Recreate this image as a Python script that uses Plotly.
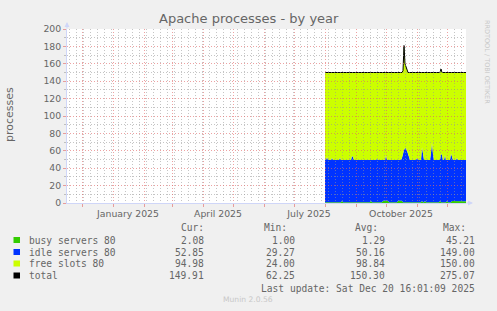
import plotly.graph_objects as go
import pandas as pd

# ---------------- data ----------------
dates = pd.date_range("2025-08-01", "2025-12-20", freq="D")

busy = [
    1, 1, 1, 1, 1, 1, 1, 1, 1, 1,
    1, 1, 1, 1, 1, 1, 1, 2.5, 1, 1,
    1, 1, 1, 1, 1, 1, 1, 1, 1, 1,
    1, 1, 1, 1, 1, 1, 1, 1, 1, 1,
    1, 1, 1, 1, 1, 1, 2.5, 1, 1, 1,
    1, 1, 1, 1, 1, 1, 1, 1, 2.5, 2.5,
    2.5, 2.5, 2.5, 2.5, 1, 1, 1, 1, 1, 1,
    1, 1, 1, 2.5, 2.5, 2.5, 2.5, 2.5, 1, 1,
    1, 1, 1, 1, 1, 1, 1, 1, 1, 1,
    1, 1, 1, 1, 1, 1, 1, 2.5, 1, 1,
    2.5, 1, 1, 1, 1, 1, 1, 1, 1, 1,
    1, 1, 1, 1, 1, 2.5, 1, 1, 1, 1,
    1, 1, 2.5, 1, 1, 1, 1, 2.2, 2.2, 2.2,
    2.2, 2.2, 2.2, 2.2, 2.2, 2.2, 2.2, 2.2, 2.2, 2.2,
    2.2, 2.1,
]

idle = [
    48.5, 48.5, 52, 48.5, 48.5, 48.5, 48.5, 51, 48.5, 48.5,
    48.5, 48.5, 48.5, 48.5, 48.5, 51, 48.5, 47, 48.5, 48.5,
    48.5, 48.5, 48.5, 48.5, 48.5, 48.5, 48.5, 53, 52, 48.5,
    48.5, 48.5, 48.5, 48.5, 48.5, 48.5, 48.5, 48.5, 48.5, 48.5,
    48.5, 48.5, 48.5, 48.5, 48.5, 48.5, 47, 48.5, 48.5, 48.5,
    48.5, 48.5, 50, 48.5, 48.5, 48.5, 48.5, 48.5, 47, 47,
    47, 52.5, 47, 47, 48.5, 48.5, 48.5, 48.5, 48.5, 48.5,
    48.5, 48.5, 48.5, 47, 47, 47, 47, 49.5, 56, 60,
    62, 62, 59, 56, 52, 48.5, 48.5, 48.5, 48.5, 48.5,
    48.5, 48.5, 51, 48.5, 48.5, 48.5, 48.5, 61.5, 54, 48.5,
    47, 48.5, 48.5, 48.5, 48.5, 48.5, 57, 68, 55, 48.5,
    48.5, 48.5, 48.5, 48.5, 48.5, 47, 56, 54, 48.5, 48.5,
    54, 48.5, 47, 48.5, 48.5, 48.5, 56, 51.8, 47.3, 47.3,
    47.3, 47.3, 49.8, 47.3, 47.3, 47.3, 47.3, 47.3, 47.3, 47.3,
    47.3, 47.4,
]

free = [
    100.5, 100.5, 97, 100.5, 100.5, 100.5, 100.5, 98, 100.5, 100.5,
    100.5, 100.5, 100.5, 100.5, 100.5, 98, 100.5, 100.5, 100.5, 100.5,
    100.5, 100.5, 100.5, 100.5, 100.5, 100.5, 100.5, 96, 97, 100.5,
    100.5, 100.5, 100.5, 100.5, 100.5, 100.5, 100.5, 100.5, 100.5, 100.5,
    100.5, 100.5, 100.5, 100.5, 100.5, 100.5, 100.5, 100.5, 100.5, 100.5,
    100.5, 100.5, 99, 100.5, 100.5, 100.5, 100.5, 100.5, 100.5, 100.5,
    100.5, 95, 100.5, 100.5, 100.5, 100.5, 100.5, 100.5, 100.5, 100.5,
    100.5, 100.5, 100.5, 100.5, 100.5, 100.5, 100.5, 98, 95, 120,
    97, 94, 93, 93, 97, 100.5, 100.5, 100.5, 100.5, 100.5,
    100.5, 100.5, 98, 100.5, 100.5, 100.5, 100.5, 86, 95, 100.5,
    100.5, 100.5, 100.5, 100.5, 100.5, 100.5, 92, 81, 94, 100.5,
    100.5, 100.5, 100.5, 100.5, 100.5, 100.5, 97, 95, 100.5, 100.5,
    95, 100.5, 100.5, 100.5, 100.5, 100.5, 93, 96, 100.5, 100.5,
    100.5, 100.5, 98, 100.5, 100.5, 100.5, 100.5, 100.5, 100.5, 100.5,
    100.5, 100.5,
]

total = [b + i + f for b, i, f in zip(busy, idle, free)]

x_range = ["2024-11-16", "2025-12-20"]
quarter_ticks = ["2025-01-16", "2025-04-16", "2025-07-16", "2025-10-16"]
quarter_labels = ["January 2025", "April 2025", "July 2025", "October 2025"]

legend_names = ["busy servers 80", "idle servers 80", "free slots 80", "total"]
legend_colors = ["#33CC00", "#0033FF", "#CCFF00", "#000000"]
cur_vals = ["2.08", "52.85", "94.98", "149.91"]
min_vals = ["1.00", "29.27", "24.00", "62.25"]
avg_vals = ["1.29", "50.16", "98.84", "150.30"]
max_vals = ["45.21", "149.00", "150.00", "275.07"]

# ---------------- geometry ----------------
W, H = 497, 311
L, R, T, B = 67, 466, 29, 203
FONT = "DejaVu Sans"
MONO = "DejaVu Sans Mono"
TXT = "#666666"
AXIS = "#CFD6F8"
MGRID = "rgba(225,100,100,0.6)"
GRID = "rgba(150,150,150,0.55)"
DOT = "1px,2px"


def px(x):
    return (x - L) / (R - L)


def py(y):
    return (B - y) / (B - T)


fig = go.Figure()

for name, vals, col in zip(legend_names[:3], [busy, idle, free], legend_colors[:3]):
    fig.add_trace(go.Scatter(
        x=dates, y=vals, name=name, stackgroup="s", mode="lines",
        line=dict(width=0, color=col), fillcolor=col, hoverinfo="skip",
        showlegend=False,
    ))

fig.add_trace(go.Scatter(
    x=dates, y=total, name="total", mode="lines",
    line=dict(width=1, color="#000000"), hoverinfo="skip", showlegend=False,
))

# invisible trace to create the grid subplot drawn above the data
fig.add_trace(go.Scatter(
    x=dates, y=total, xaxis="x2", yaxis="y2", mode="lines",
    line=dict(width=0), opacity=0, hoverinfo="skip", showlegend=False,
))

annotations = []
annotations.append(dict(
    text="Apache processes - by year", x=px(248.5), y=py(19), xref="paper", yref="paper",
    showarrow=False, xanchor="center", yanchor="middle",
    font=dict(family=FONT, size=13, color=TXT),
))
annotations.append(dict(
    text="processes", x=px(10), y=py(115), xref="paper", yref="paper",
    showarrow=False, xanchor="center", yanchor="middle", textangle=-90,
    font=dict(family=FONT, size=11, color=TXT),
))
annotations.append(dict(
    text="RRDTOOL / TOBI OETIKER", x=px(487), y=py(62), xref="paper", yref="paper",
    showarrow=False, xanchor="center", yanchor="middle", textangle=90,
    font=dict(family=FONT, size=6.5, color="#C8C8C8"),
))
annotations.append(dict(
    text="Munin 2.0.56", x=px(248), y=py(299), xref="paper", yref="paper",
    showarrow=False, xanchor="center", yanchor="middle",
    font=dict(family=FONT, size=7.6, color="#C8C8C8"),
))

mono = dict(family=MONO, size=9.6, color=TXT)
headers = [("Cur:", 206), ("Min:", 289), ("Avg:", 380), ("Max:", 468)]
for t, xr in headers:
    annotations.append(dict(text=t, x=px(xr), y=py(227), xref="paper", yref="paper",
                            showarrow=False, xanchor="right", yanchor="middle", font=mono))

row_y = [240, 252, 263.5, 275.5]
shapes = [dict(type="rect", xref="paper", yref="paper", x0=0, x1=1, y0=0, y1=1,
               fillcolor="#FFFFFF", line=dict(width=0), layer="below")]
for k in range(4):
    yy = row_y[k]
    annotations.append(dict(text=legend_names[k], x=px(27), y=py(yy), xref="paper", yref="paper",
                            showarrow=False, xanchor="left", yanchor="middle", font=mono))
    for vals, xr in [(cur_vals, 206), (min_vals, 297), (avg_vals, 387), (max_vals, 477)]:
        annotations.append(dict(text=vals[k], x=px(xr), y=py(yy), xref="paper", yref="paper",
                                showarrow=False, xanchor="right", yanchor="middle", font=mono))
    shapes.append(dict(type="rect", xref="paper", yref="paper",
                       x0=px(13.5), x1=px(20), y0=py(yy + 3), y1=py(yy - 3),
                       fillcolor=legend_colors[k], line=dict(width=0), layer="above"))

annotations.append(dict(text="Last update: Sat Dec 20 16:01:09 2025", x=px(477), y=py(288),
                        xref="paper", yref="paper", showarrow=False, xanchor="right",
                        yanchor="middle", font=mono))

# axis arrows
annotations.append(dict(text="", x=0, y=1, xref="paper", yref="paper", yshift=7,
                        showarrow=True, ax=0, ay=8, arrowhead=2, arrowsize=1,
                        arrowwidth=1, arrowcolor=AXIS))
annotations.append(dict(text="", x=1, y=0, xref="paper", yref="paper", xshift=7,
                        showarrow=True, ax=-8, ay=0, arrowhead=2, arrowsize=1,
                        arrowwidth=1, arrowcolor=AXIS))

fig.update_layout(
    width=W, height=H,
    margin=dict(l=L, r=W - R, t=T, b=H - B, pad=0),
    paper_bgcolor="#F0F0F0",
    plot_bgcolor="rgba(0,0,0,0)",
    showlegend=False,
    hovermode=False,
    annotations=annotations,
    shapes=shapes,
    xaxis=dict(
        type="date", range=x_range, domain=[0, 1],
        showgrid=False, zeroline=False,
        tickmode="array", tickvals=quarter_ticks, ticktext=quarter_labels,
        ticks="outside", ticklen=2, tickcolor="rgba(0,0,0,0)",
        tickfont=dict(family=FONT, size=9.3, color=TXT),
        showline=True, linecolor=AXIS, linewidth=1,
    ),
    yaxis=dict(
        range=[0, 200], domain=[0, 1],
        showgrid=False, zeroline=False,
        tickmode="linear", tick0=0, dtick=20,
        ticks="outside", ticklen=3, tickcolor=MGRID,
        tickfont=dict(family=FONT, size=9.3, color=TXT),
        showline=True, linecolor=AXIS, linewidth=1,
    ),
    xaxis2=dict(
        type="date", range=x_range, domain=[0, 1], anchor="y2",
        showticklabels=False, zeroline=False, showline=False,
        tickmode="linear", tick0="2024-12-01", dtick="M1",
        showgrid=True, gridcolor=MGRID, griddash=DOT, gridwidth=1,
        ticks="outside", ticklen=3, tickcolor=MGRID,
        minor=dict(tick0="2024-11-18", dtick=7 * 24 * 3600 * 1000, showgrid=True,
                   gridcolor=GRID, griddash=DOT, gridwidth=1),
    ),
    yaxis2=dict(
        range=[0, 200], domain=[0, 1], anchor="x2",
        showticklabels=False, zeroline=False, showline=False,
        tickmode="linear", tick0=0, dtick=20,
        showgrid=True, gridcolor=MGRID, griddash=DOT, gridwidth=1,
        minor=dict(dtick=10, showgrid=True, gridcolor=GRID, griddash=DOT, gridwidth=1,
                   ticks="outside", ticklen=2, tickcolor=GRID),
    ),
)

fig.write_html("out.html")
